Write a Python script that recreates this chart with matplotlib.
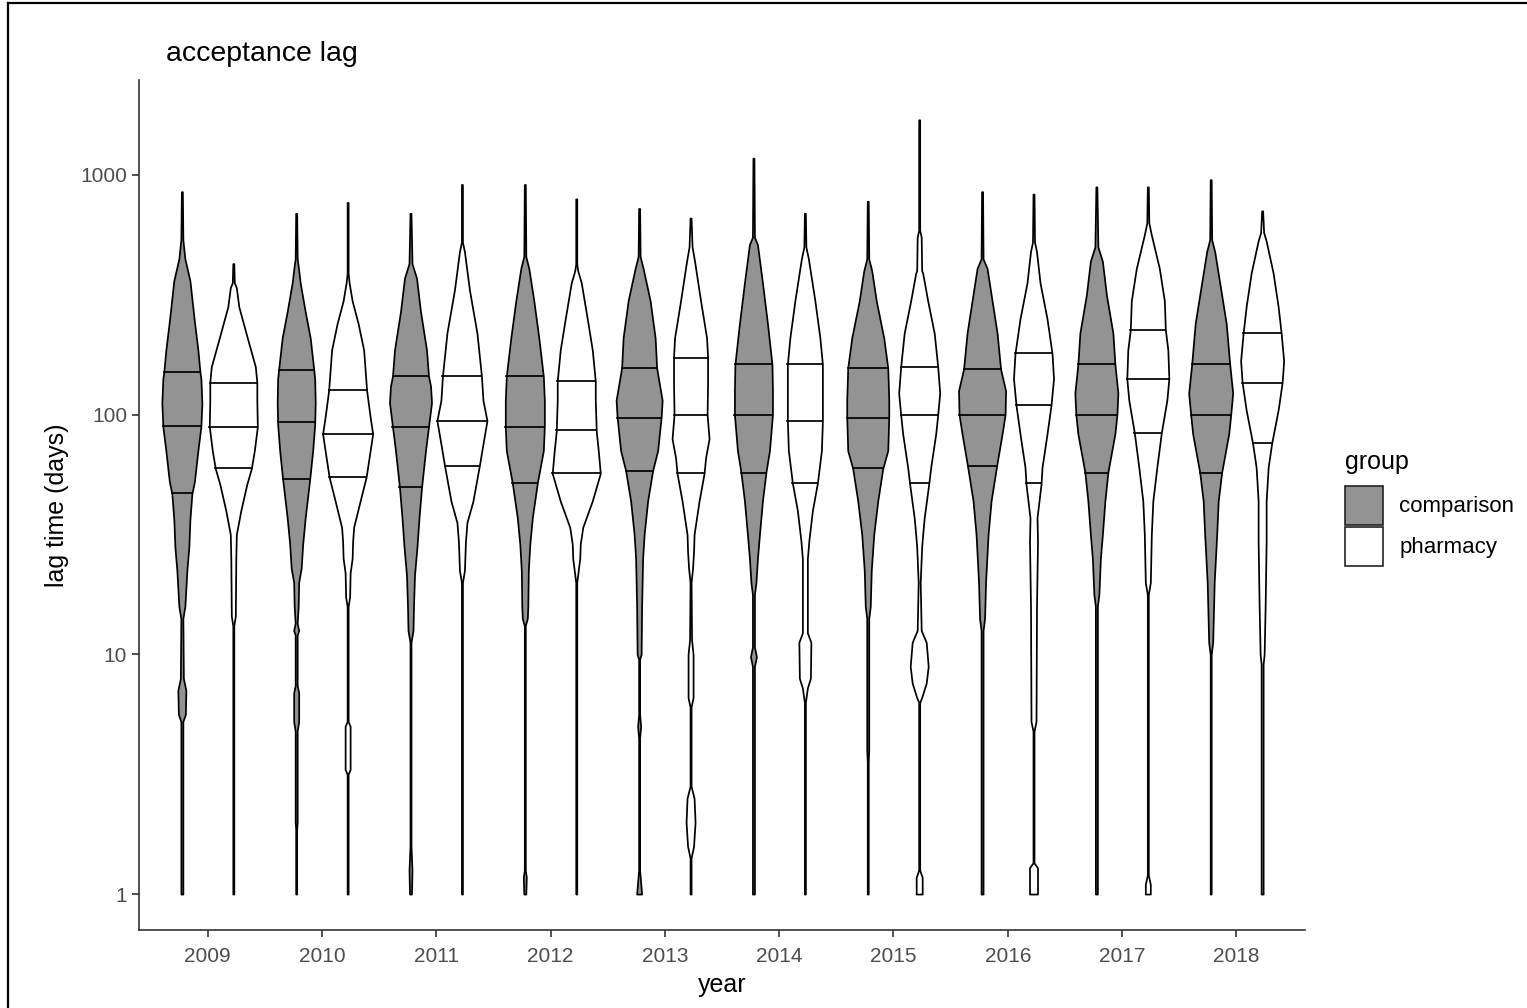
"""
Acceptance lag by year: violin plots (comparison vs pharmacy) on a log scale.
"""

import numpy as np
import matplotlib.pyplot as plt
from matplotlib.patches import Patch
from matplotlib.lines import Line2D

plt.rcParams["font.family"] = ["Liberation Sans", "DejaVu Sans"]

years = ["2009", "2010", "2011", "2012", "2013",
         "2014", "2015", "2016", "2017", "2018"]
groups = ["comparison", "pharmacy"]

# density profiles: (log10 lag in days, relative density)
comparison_profiles = [
    [(0, 2), (0.5, 2), (0.72, 2), (0.75, 7), (0.85, 8), (0.9, 3), (1.15, 2), (1.2, 6),
     (1.35, 10), (1.45, 14), (1.56, 16), (1.67, 20), (1.72, 25), (1.85, 32), (1.95, 38),
     (2.05, 40), (2.15, 38), (2.18, 36), (2.27, 32), (2.39, 25), (2.56, 16), (2.65, 6),
     (2.73, 2), (2.93, 1)],
    [(0, 1), (0.27, 1), (0.3, 2), (0.68, 2), (0.72, 5), (0.84, 5), (0.87, 2), (1.08, 2),
     (1.1, 5), (1.13, 2), (1.2, 4), (1.3, 5), (1.36, 10), (1.46, 13), (1.57, 18),
     (1.73, 27), (1.85, 33), (1.96, 37), (2.05, 38), (2.15, 37), (2.19, 35), (2.32, 28),
     (2.43, 18), (2.55, 8), (2.62, 4), (2.65, 2), (2.84, 1)],
    [(0, 2), (0.1, 3), (0.2, 1), (1.05, 1), (1.1, 5), (1.2, 6), (1.33, 8), (1.45, 13),
     (1.57, 17), (1.695, 22), (1.85, 30), (1.95, 36), (2.05, 42), (2.12, 40), (2.16, 36),
     (2.27, 32), (2.43, 20), (2.57, 12), (2.63, 3), (2.84, 1)],
    [(0, 2), (0.07, 3), (0.1, 1), (1.12, 1), (1.15, 5), (1.2, 6), (1.35, 7), (1.46, 10),
     (1.57, 15), (1.715, 25), (1.85, 37), (1.95, 39), (2.06, 39), (2.16, 37), (2.32, 28),
     (2.475, 18), (2.61, 8), (2.66, 2), (2.96, 1)],
    [(0, 5), (0.05, 3), (0.1, 1), (0.65, 1), (0.7, 3), (0.75, 1), (0.98, 1), (1.0, 4),
     (1.2, 5), (1.4, 7), (1.5, 10), (1.64, 17), (1.767, 27), (1.85, 37), (1.99, 44),
     (2.06, 46), (2.195, 35), (2.32, 32), (2.475, 22), (2.61, 8), (2.66, 2), (2.86, 1)],
    [(0, 2), (0.95, 2), (0.99, 6), (1.03, 2), (1.25, 2), (1.3, 5), (1.4, 8), (1.5, 12),
     (1.64, 18), (1.76, 25), (1.85, 32), (2.0, 38), (2.1, 38), (2.21, 37), (2.38, 28),
     (2.55, 18), (2.71, 8), (2.74, 2), (3.07, 1)],
    [(0, 1), (0.55, 1), (0.6, 2), (1.15, 2), (1.2, 5), (1.35, 7), (1.5, 12), (1.64, 20),
     (1.775, 30), (1.85, 40), (1.99, 42), (2.06, 42), (2.195, 40), (2.32, 32),
     (2.475, 17), (2.6, 8), (2.65, 2), (2.89, 1)],
    [(0, 2), (1.1, 2), (1.15, 5), (1.3, 7), (1.5, 12), (1.64, 18), (1.785, 29),
     (1.92, 40), (2.0, 46), (2.1, 47), (2.19, 37), (2.34, 30), (2.475, 20), (2.61, 10),
     (2.65, 2), (2.93, 1)],
    [(0, 2), (1.2, 2), (1.25, 5), (1.4, 8), (1.5, 12), (1.64, 17), (1.76, 23), (1.92, 37),
     (2.0, 41), (2.09, 43), (2.21, 37), (2.34, 33), (2.5, 20), (2.64, 12), (2.7, 3),
     (2.95, 1)],
    [(0, 1), (1.0, 1), (1.05, 4), (1.3, 7), (1.5, 12), (1.64, 15), (1.76, 22), (1.92, 36),
     (2.0, 40), (2.09, 44), (2.21, 38), (2.38, 31), (2.55, 18), (2.68, 8), (2.73, 2),
     (2.98, 1)],
]

pharmacy_profiles = [
    [(0, 1), (1.12, 1), (1.16, 4), (1.4, 5), (1.5, 6), (1.6, 15), (1.71, 27), (1.775, 36),
     (1.85, 42), (1.95, 48), (2.06, 47), (2.135, 47), (2.2, 44), (2.32, 28), (2.45, 11),
     (2.53, 6), (2.55, 2), (2.63, 1)],
    [(0, 1), (0.5, 1), (0.52, 5), (0.7, 5), (0.72, 1), (1.2, 1), (1.24, 4), (1.34, 5),
     (1.4, 9), (1.47, 10), (1.53, 12), (1.64, 25), (1.74, 37), (1.85, 45), (1.92, 50),
     (1.99, 45), (2.1, 38), (2.27, 32), (2.38, 21), (2.475, 9), (2.55, 3), (2.59, 1),
     (2.885, 1)],
    [(0, 1), (1.3, 1), (1.35, 5), (1.47, 7), (1.55, 10), (1.64, 22), (1.79, 35),
     (1.89, 43), (1.975, 50), (2.06, 42), (2.16, 39), (2.34, 30), (2.52, 15), (2.68, 5),
     (2.72, 1), (2.96, 1)],
    [(0, 1), (1.3, 1), (1.35, 4), (1.4, 7), (1.46, 8), (1.53, 13), (1.64, 32),
     (1.755, 48), (1.85, 44), (1.93, 40), (2.06, 38), (2.14, 38), (2.27, 32), (2.4, 22),
     (2.55, 10), (2.6, 3), (2.63, 1), (2.9, 1)],
    [(0, 1), (0.15, 1), (0.2, 6), (0.3, 9), (0.4, 7), (0.45, 1), (0.78, 1), (0.82, 5),
     (1.0, 5), (1.06, 2), (1.3, 1), (1.36, 4), (1.43, 6), (1.5, 7), (1.64, 17),
     (1.755, 27), (1.82, 30), (1.9, 37), (2.0, 33), (2.13, 34), (2.24, 34), (2.32, 32),
     (2.475, 20), (2.64, 8), (2.7, 3), (2.82, 1)],
    [(0, 1), (0.8, 1), (0.86, 5), (0.9, 11), (1.05, 12), (1.09, 5), (1.4, 5), (1.475, 8),
     (1.6, 15), (1.715, 25), (1.85, 33), (1.975, 35), (2.1, 35), (2.21, 35), (2.32, 30),
     (2.475, 20), (2.65, 7), (2.7, 2), (2.84, 1)],
    [(0, 6), (0.07, 6), (0.1, 1), (0.8, 1), (0.82, 5), (0.88, 14), (0.95, 18), (1.05, 14),
     (1.1, 4), (1.3, 2), (1.45, 5), (1.5, 7), (1.57, 10), (1.71, 19), (1.78, 23),
     (1.92, 33), (2.0, 37), (2.09, 41), (2.2, 37), (2.34, 30), (2.475, 17), (2.59, 7),
     (2.6, 5), (2.74, 4), (2.77, 1), (3.23, 1)],
    [(0, 8), (0.11, 8), (0.13, 1), (0.68, 1), (0.72, 5), (1.2, 6), (1.47, 8), (1.57, 7),
     (1.71, 15), (1.78, 17), (1.92, 27), (2.04, 35), (2.15, 40), (2.255, 37), (2.4, 27),
     (2.55, 13), (2.68, 6), (2.72, 2), (2.92, 1)],
    [(0, 5), (0.04, 5), (0.08, 1), (1.25, 1), (1.3, 5), (1.5, 7), (1.64, 10), (1.78, 18),
     (1.925, 27), (2.06, 38), (2.15, 42), (2.27, 40), (2.355, 35), (2.475, 33),
     (2.61, 23), (2.75, 7), (2.8, 2), (2.95, 1)],
    [(0, 2), (0.96, 2), (1.0, 4), (1.2, 6), (1.47, 8), (1.64, 8), (1.78, 12), (1.88, 19),
     (2.02, 32), (2.135, 40), (2.225, 43), (2.34, 38), (2.45, 32), (2.59, 22),
     (2.725, 8), (2.76, 3), (2.85, 1)],
]

# quartiles (days): 25%, 50%, 75%
comparison_quartiles = [(47, 90, 150), (54, 93, 154), (50, 89, 145), (52, 89, 145),
                        (58, 97, 157), (57, 100, 163), (60, 97, 157), (61, 100, 155),
                        (57, 100, 163), (57, 100, 163)]
pharmacy_quartiles = [(60, 89, 136), (55, 83, 127), (61, 94, 145), (57, 86, 138),
                      (57, 100, 173), (52, 94, 163), (52, 100, 158), (52, 110, 180),
                      (84, 141, 226), (76, 136, 219)]

fill_colors = {"comparison": "#939393", "pharmacy": "#ffffff"}
DODGE = 0.225
DENS_TO_WIDTH = 1 / 114.2
LW = 1.25


def draw_violin(ax, center, profile, quartiles, color):
    logs = np.array([p[0] for p in profile])
    dens = np.array([p[1] for p in profile])
    half = dens * DENS_TO_WIDTH / 2
    days = 10 ** logs
    ax.fill_betweenx(days, center - half, center + half, facecolor=color,
                     edgecolor="black", linewidth=LW, zorder=2)
    for q in quartiles:
        h = np.interp(np.log10(q), logs, half)
        ax.plot([center - h, center + h], [q, q], color="black", lw=LW, zorder=3)


fig = plt.figure(figsize=(15.27, 10.08), dpi=100)
ax = fig.add_axes([139 / 1527, 78 / 1008, (1305 - 139) / 1527, (930 - 80) / 1008])

x = np.arange(1, len(years) + 1)
for i, xi in enumerate(x):
    draw_violin(ax, xi - DODGE, comparison_profiles[i], comparison_quartiles[i],
                fill_colors["comparison"])
    draw_violin(ax, xi + DODGE, pharmacy_profiles[i], pharmacy_quartiles[i],
                fill_colors["pharmacy"])

ax.set_yscale("log")
ax.set_ylim(10 ** -0.15, 10 ** 3.396)
ax.set_xlim(0.4, 10.6)
ax.set_xticks(x)
ax.set_xticklabels(years)
ax.set_yticks([1, 10, 100, 1000])
ax.set_yticklabels(["1", "10", "100", "1000"])
ax.minorticks_off()
ax.tick_params(labelsize=15, colors="#333333", labelcolor="#4d4d4d", length=5, width=1.2)
ax.tick_params(axis="x", pad=7)

for side in ["top", "right"]:
    ax.spines[side].set_visible(False)
for side in ["left", "bottom"]:
    ax.spines[side].set_linewidth(1.2)
    ax.spines[side].set_color("#333333")

ax.set_xlabel("year", fontsize=18, labelpad=5)
ax.set_ylabel("lag time (days)", fontsize=18, labelpad=8)
ax.set_title("acceptance lag", fontsize=20.5, loc="left",
             x=(166 - 139) / (1305 - 139), pad=14)

# legend: title placed separately so the keys sit a little lower, as in ggplot
fig.text(1345 / 1527, 1 - 462 / 1008, "group", fontsize=18, va="center", ha="left")
handles = [Patch(facecolor=fill_colors[g], edgecolor="#222222", linewidth=1.2) for g in groups]
leg = fig.legend(handles, groups, loc="upper left",
                 bbox_to_anchor=(1345 / 1527, 1 - 486 / 1008),
                 frameon=False, fontsize=16, handlelength=1.72, handleheight=2.3,
                 labelspacing=0.1, handletextpad=0.72, borderpad=0, borderaxespad=0)

# screenshot border
fig.add_artist(Line2D([8 / 1527, 1], [1 - 3 / 1008, 1 - 3 / 1008], color="black", lw=1.6,
                      transform=fig.transFigure))
fig.add_artist(Line2D([8 / 1527, 8 / 1527], [0, 1 - 3 / 1008], color="black", lw=1.6,
                      transform=fig.transFigure))

fig.savefig("out.png", dpi=100)
